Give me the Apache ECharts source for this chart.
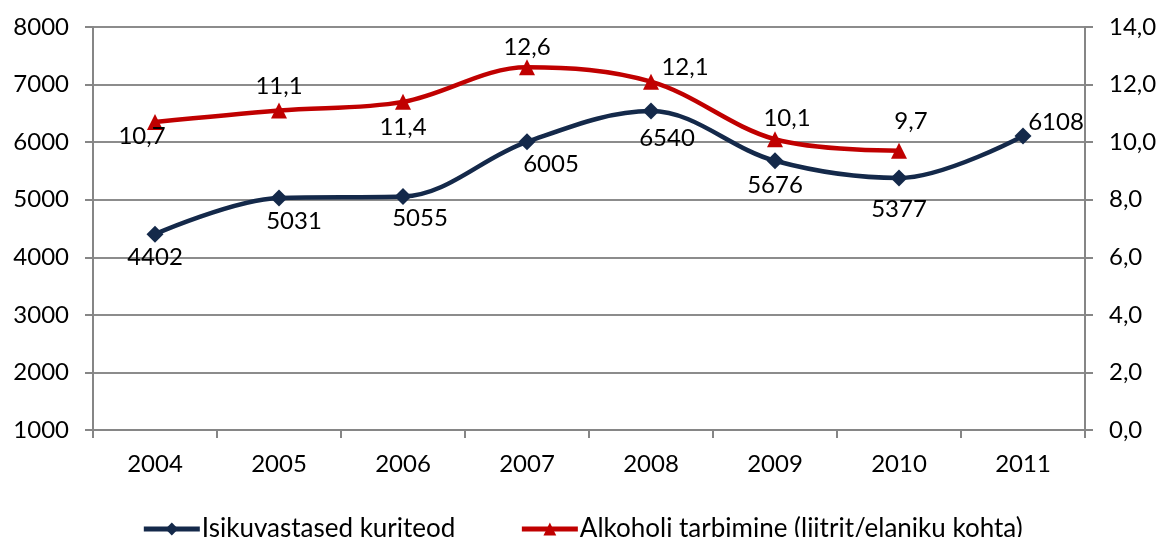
<!DOCTYPE html>
<html>
<head>
<meta charset="utf-8">
<script src="https://cdn.jsdelivr.net/npm/echarts@6/dist/echarts.min.js"></script>
<style>
  html, body { margin: 0; padding: 0; background: #fff; }
  #chart { width: 1164px; height: 537px; }
</style>
</head>
<body>
<div id="chart"></div>
<script>
  // andmed
  const years = ['2004', '2005', '2006', '2007', '2008', '2009', '2010', '2011']
  const kuriteod = [4402, 5031, 5055, 6005, 6540, 5676, 5377, 6108]
  const alkohol = [10.7, 11.1, 11.4, 12.6, 12.1, 10.1, 9.7, null]

  // siltide nihked punkti keskpunktist (px)
  const kuriteodLabelOffset = [[0, 23], [15, 23], [17, 22], [24, 22], [16, 27], [0, 24], [0, 31], [33, -14]]
  const alkoholLabelOffset = [[-13, 14], [0, -24], [0, 25], [0, -20], [34, -14], [12, -21], [12, -30], [0, 0]]

  const font = 'Lato, "Open Sans", sans-serif'
  const navy = '#14294a'
  const red = '#c00000'
  const fs = 24

  const chart = echarts.init(document.getElementById('chart'))
  chart.setOption({
    animation: false,
    backgroundColor: '#fff',
    textStyle: { fontFamily: font },
    grid: { left: 93, right: 79, top: 27, bottom: 107 },
    legend: {
      top: 511,
      left: 'center',
      itemWidth: 56,
      itemHeight: 16,
      itemGap: 64,
      lineStyle: { width: 5 },
      textStyle: { fontSize: 26, color: '#000', fontFamily: font, padding: [0, 0, 0, -3] },
      data: ['Isikuvastased kuriteod', 'Alkoholi tarbimine (liitrit/elaniku kohta)']
    },
    xAxis: {
      type: 'category',
      data: years,
      boundaryGap: true,
      axisLine: { lineStyle: { color: '#868686', width: 2 } },
      axisTick: { show: true, length: 8, lineStyle: { color: '#868686', width: 2 } },
      axisLabel: { fontSize: fs, color: '#000', margin: 22, fontFamily: font }
    },
    yAxis: [
      {
        type: 'value',
        min: 1000, max: 8000, interval: 1000,
        axisLine: { show: true, lineStyle: { color: '#868686', width: 2 } },
        axisTick: { show: true, length: 8, lineStyle: { color: '#868686', width: 2 } },
        axisLabel: { fontSize: fs, color: '#000', margin: 24, fontFamily: font, formatter: v => String(v) },
        splitLine: { lineStyle: { color: '#8c8c8c', width: 2 } }
      },
      {
        type: 'value',
        min: 0, max: 14, interval: 2,
        position: 'right',
        axisLine: { show: true, lineStyle: { color: '#868686', width: 2 } },
        axisTick: { show: true, length: 8, lineStyle: { color: '#868686', width: 2 } },
        axisLabel: {
          fontSize: fs, color: '#000', margin: 24, fontFamily: font,
          formatter: v => v.toFixed(1).replace('.', ',')
        },
        splitLine: { show: false }
      }
    ],
    series: [
      {
        name: 'Isikuvastased kuriteod',
        type: 'line',
        yAxisIndex: 0,
        smooth: 0.35,
        symbol: 'diamond',
        symbolSize: 17,
        color: navy,
        lineStyle: { width: 4.5, color: navy },
        itemStyle: { color: navy },
        data: kuriteod.map((v, i) => ({
          value: v,
          label: {
            show: true,
            position: 'inside',
            offset: kuriteodLabelOffset[i],
            fontSize: fs,
            color: '#000',
            fontFamily: font
          }
        }))
      },
      {
        name: 'Alkoholi tarbimine (liitrit/elaniku kohta)',
        type: 'line',
        yAxisIndex: 1,
        smooth: 0.35,
        symbol: 'triangle',
        symbolSize: 16,
        color: red,
        lineStyle: { width: 4.5, color: red },
        itemStyle: { color: red },
        data: alkohol.map((v, i) => ({
          value: v,
          label: {
            show: v != null,
            position: 'inside',
            offset: alkoholLabelOffset[i],
            fontSize: fs,
            color: '#000',
            fontFamily: font,
            formatter: p => p.value.toFixed(1).replace('.', ',')
          }
        }))
      }
    ]
  })
</script>
</body>
</html>
